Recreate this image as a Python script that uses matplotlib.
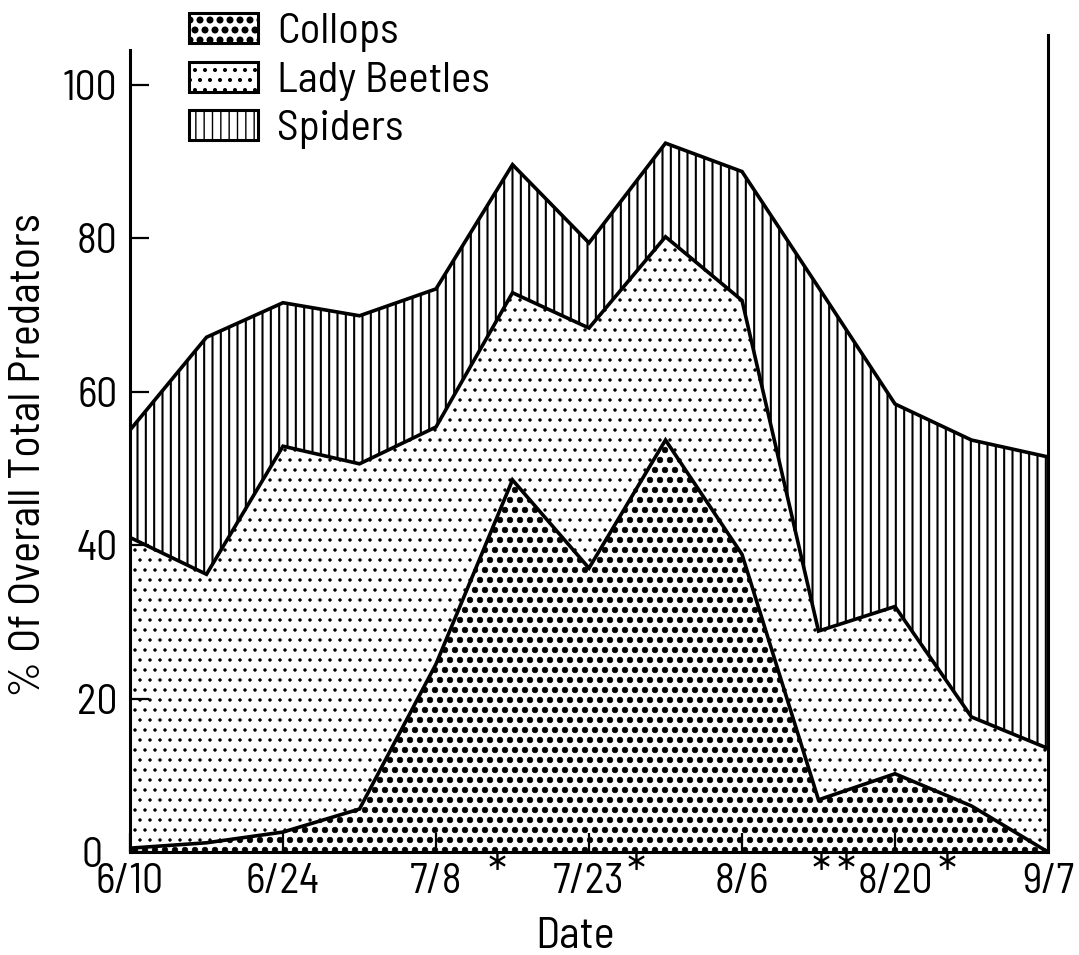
import numpy as np
import matplotlib
matplotlib.use("Agg")
import matplotlib.pyplot as plt
import matplotlib.hatch as mhatch
from matplotlib.patches import Patch
from matplotlib import transforms

plt.rcParams['font.family'] = ['Barlow Semi Condensed', 'DejaVu Sans']
plt.rcParams['font.weight'] = 400


# screen-tone style dot patterns: '*' -> large dots, '.' -> small dots
class BigDots(mhatch.Circles):
    size = 0.28
    filled = True

    def __init__(self, hatch, density):
        self.num_rows = hatch.count('*') * 5
        super().__init__(hatch, density)


class SmallDots(mhatch.Circles):
    size = 0.13
    filled = True

    def __init__(self, hatch, density):
        self.num_rows = hatch.count('.') * 5
        super().__init__(hatch, density)


_types = mhatch._hatch_types
_types[_types.index(mhatch.Stars)] = BigDots
_types[_types.index(mhatch.SmallFilledCircles)] = SmallDots

# sampling dates (weekly) and tick labels
dates = ['6/10', '6/17', '6/24', '7/1', '7/8', '7/15', '7/23',
         '7/30', '8/6', '8/13', '8/20', '8/27', '9/7']
tick_idx = [0, 2, 4, 6, 8, 10, 12]
# % of overall total predators for each group
collops = [0.5, 1.2, 2.6, 5.6, 24.5, 48.5, 37.0, 53.7, 38.8, 6.8, 10.2, 6.0, 0.0]
lady_beetles = [40.5, 35.0, 50.3, 45.0, 30.9, 24.4, 31.3, 26.5, 33.1, 22.0, 21.8, 11.6, 13.5]
spiders = [14.0, 30.9, 18.7, 19.3, 18.0, 16.7, 11.1, 12.2, 16.8, 44.8, 26.4, 36.1, 38.0]
groups = ['Collops', 'Lady Beetles', 'Spiders']
hatches = ['**', '..', '||']
hatch_lw = [0.5, 0.5, 1.5]
# dates marked with an asterisk (positions along date axis)
star_pos = [4.8, 6.62, 9.03, 9.36, 10.68]

x = np.arange(len(dates))
layers = np.vstack([collops, lady_beetles, spiders])
tops = np.cumsum(layers, axis=0)
bottoms = np.vstack([np.zeros(len(dates)), tops[:-1]])

fig = plt.figure(figsize=(10.79, 9.55), dpi=100)
ax = fig.add_axes([130/1079, 1-852/955, 918/1079, 817/955])

handles = []
for i in range(3):
    poly = ax.fill_between(x, bottoms[i], tops[i], facecolor='white',
                           edgecolor='black', hatch=hatches[i], linewidth=0)
    if hasattr(poly, 'set_hatch_linewidth'):
        poly.set_hatch_linewidth(hatch_lw[i])
    ax.plot(x, tops[i], color='black', lw=2.6, solid_joinstyle='miter')
    p = Patch(facecolor='white', edgecolor='black', hatch=hatches[i],
              linewidth=2.2, label=groups[i])
    if hasattr(p, 'set_hatch_linewidth'):
        p.set_hatch_linewidth(hatch_lw[i])
    handles.append(p)

ax.set_xlim(0, 12)
ax.set_ylim(0, 106.5)
ax.spines['top'].set_visible(False)
for s in ['left', 'bottom', 'right']:
    ax.spines[s].set_linewidth(2.2)
ax.spines['left'].set_bounds(0, 104.5)

ax.set_yticks([0, 20, 40, 60, 80, 100])
ax.set_xticks(tick_idx)
ax.set_xticklabels([dates[i] for i in tick_idx])
ax.tick_params(axis='y', direction='in', length=14, width=1.6, pad=9,
               labelsize=30, right=False)
ax.tick_params(axis='x', direction='in', length=14, width=1.6, pad=8,
               labelsize=30, top=False)
# the corner label "0" sits a little further left in the original
ax.yaxis.get_major_ticks()[0].set_pad(20)

trans = transforms.blended_transform_factory(ax.transData, ax.transAxes)
for sx in star_pos:
    ax.text(sx, -0.004, '*', transform=trans, ha='center', va='top', fontsize=36)

ax.set_ylabel('% Of Overall Total Predators', fontsize=32)
ax.yaxis.set_label_coords(-0.088, 0.486)
ax.set_xlabel('Date', fontsize=32)
ax.xaxis.set_label_coords(0.485, -0.079)

fig.legend(handles=handles, loc='upper left', bbox_to_anchor=(189/1079, 1-13/955),
           frameon=False, fontsize=31, handlelength=1.6, handleheight=0.7,
           handletextpad=0.45, labelspacing=0.22, borderpad=0, borderaxespad=0)

fig.savefig('out.png', dpi=100)
